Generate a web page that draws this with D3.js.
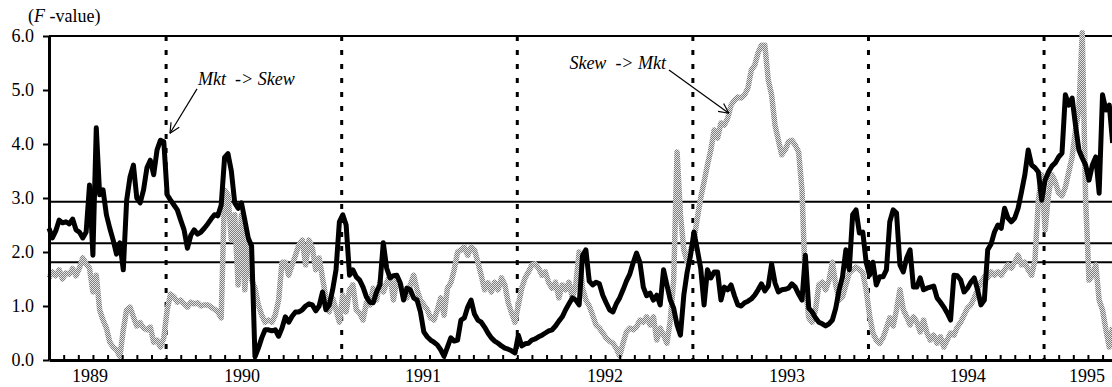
<!DOCTYPE html>
<html>
<head>
<meta charset="utf-8">
<script src="https://cdn.jsdelivr.net/npm/d3@7"></script>
<style>
  body { margin: 0; background: #fff; }
  svg { display: block; font-family: "Liberation Serif", "Times New Roman", serif; }
</style>
</head>
<body>
<div id="chart"></div>
<script>
// F-values of the rolling causality tests, weekly observations

// first weekly observation (decimal year) and the right end of the axis
var startYear = 1988.833;
var endYear = 1994.887;

// Mkt -> Skew (black), one value per week
var mktToSkew = [
  2.44, 2.26, 2.39, 2.59, 2.54, 2.56, 2.52, 2.61, 2.41, 2.37, 2.26, 2.37, 3.24, 1.94, 4.30, 3.06,
  3.15, 2.69, 2.44, 2.22, 1.96, 2.17, 1.67, 2.96, 3.39, 3.61, 3.00, 2.91, 3.15, 3.56, 3.70, 3.43,
  3.89, 4.07, 4.04, 3.06, 2.96, 2.87, 2.78, 2.59, 2.41, 2.07, 2.31, 2.41, 2.33, 2.37, 2.44, 2.52,
  2.61, 2.69, 2.67, 2.87, 3.75, 3.82, 3.50, 2.91, 2.81, 2.91, 2.59, 2.26, 2.11, 0.06, 0.22, 0.41,
  0.56, 0.56, 0.54, 0.56, 0.44, 0.59, 0.80, 0.70, 0.81, 0.89, 0.89, 0.93, 1.00, 1.04, 1.02, 0.91,
  1.00, 1.26, 0.93, 1.02, 1.30, 1.67, 2.56, 2.69, 2.50, 1.57, 1.67, 1.54, 1.48, 1.35, 1.17, 1.07,
  1.06, 1.26, 1.39, 2.17, 1.70, 1.52, 1.56, 1.57, 1.43, 1.11, 1.33, 1.30, 1.15, 1.11, 0.89, 0.52,
  0.43, 0.37, 0.33, 0.28, 0.19, 0.07, 0.24, 0.41, 0.35, 0.37, 0.74, 0.78, 0.98, 1.11, 0.85, 0.74,
  0.70, 0.61, 0.50, 0.41, 0.35, 0.31, 0.26, 0.22, 0.20, 0.17, 0.13, 0.46, 0.26, 0.30, 0.31, 0.37,
  0.39, 0.43, 0.46, 0.50, 0.54, 0.56, 0.63, 0.72, 0.80, 0.93, 1.04, 1.15, 1.11, 1.02, 1.93, 2.04,
  1.46, 1.39, 1.44, 1.41, 1.20, 1.06, 0.93, 0.89, 1.04, 1.15, 1.30, 1.46, 1.59, 1.80, 1.98, 1.81,
  1.35, 1.19, 1.24, 1.11, 1.20, 1.02, 1.67, 1.39, 1.11, 0.96, 0.65, 0.46, 1.20, 1.63, 1.94, 2.37,
  2.04, 1.70, 1.02, 1.67, 1.52, 1.63, 1.63, 1.11, 1.35, 1.30, 1.39, 1.19, 1.02, 1.00, 1.06, 1.09,
  1.13, 1.20, 1.30, 1.41, 1.28, 1.37, 1.78, 1.43, 1.26, 1.30, 1.31, 1.33, 1.41, 1.35, 1.22, 1.11,
  1.94, 0.96, 0.89, 0.78, 0.70, 0.67, 0.63, 0.67, 0.74, 0.96, 1.30, 1.54, 2.04, 1.67, 2.69, 2.78,
  2.35, 2.37, 1.81, 1.57, 1.81, 1.39, 1.54, 1.54, 1.67, 2.56, 2.78, 2.72, 1.76, 1.63, 1.89, 2.04,
  1.35, 1.35, 1.52, 1.30, 1.33, 1.35, 1.37, 1.15, 1.07, 0.98, 0.87, 0.74, 1.57, 1.56, 1.48, 1.26,
  1.33, 1.44, 1.52, 1.30, 1.02, 1.11, 2.04, 2.15, 2.37, 2.50, 2.44, 2.81, 2.63, 2.56, 2.63, 2.81,
  3.11, 3.43, 3.89, 3.61, 3.56, 3.48, 2.96, 3.33, 3.48, 3.59, 3.65, 3.76, 3.83, 4.91, 4.72, 4.85,
  4.35, 3.89, 3.74, 3.61, 3.33, 3.61, 3.76, 3.09, 4.91, 4.63, 4.72, 4.02
];

// Skew -> Mkt (grey), one value per week
var skewToMkt = [
  1.52, 1.63, 1.56, 1.67, 1.50, 1.61, 1.59, 1.69, 1.56, 1.70, 1.89, 1.78, 1.70, 1.26, 1.57, 0.93,
  0.74, 0.59, 0.33, 0.24, 0.19, 0.06, 0.56, 0.93, 0.98, 0.80, 0.63, 0.69, 0.59, 0.56, 0.61, 0.33,
  0.37, 0.24, 0.41, 0.93, 1.22, 1.17, 1.07, 1.11, 1.04, 0.98, 1.07, 1.04, 1.06, 1.00, 1.02, 1.02,
  0.98, 0.94, 0.89, 0.78, 3.15, 3.06, 2.22, 2.69, 1.39, 2.69, 1.30, 2.22, 1.48, 1.33, 1.02, 0.83,
  0.70, 0.74, 0.70, 0.83, 1.11, 1.81, 1.81, 1.57, 1.76, 1.94, 2.13, 2.22, 1.76, 2.22, 2.07, 1.67,
  1.89, 1.52, 1.15, 0.89, 1.15, 0.93, 0.70, 1.20, 0.89, 1.30, 1.39, 0.93, 0.87, 0.74, 1.06, 1.02,
  1.33, 1.11, 1.44, 1.26, 1.43, 1.57, 1.11, 1.48, 1.41, 1.26, 1.15, 1.39, 1.57, 1.30, 1.11, 1.02,
  0.93, 0.78, 0.74, 0.93, 1.15, 0.83, 1.33, 1.43, 1.67, 2.00, 2.04, 2.09, 1.94, 2.09, 2.04, 1.81,
  1.57, 1.30, 1.43, 1.26, 1.44, 1.30, 1.52, 1.39, 1.06, 0.87, 0.70, 1.02, 1.33, 1.52, 1.63, 1.76,
  1.78, 1.70, 1.57, 1.63, 1.43, 1.33, 1.44, 1.15, 1.39, 1.30, 1.44, 1.15, 1.39, 2.00, 1.33, 1.11,
  1.00, 0.83, 0.65, 0.59, 0.50, 0.41, 0.35, 0.31, 0.22, 0.07, 0.31, 0.52, 0.59, 0.56, 0.61, 0.74,
  0.70, 0.80, 0.65, 0.80, 0.37, 0.59, 0.46, 0.31, 0.74, 1.48, 3.85, 2.69, 2.04, 1.81, 2.04, 2.22,
  2.63, 3.00, 3.30, 3.61, 3.89, 4.26, 4.11, 4.39, 4.35, 4.48, 4.72, 4.81, 4.87, 4.85, 4.91, 5.04,
  5.37, 5.46, 5.69, 5.83, 5.83, 5.19, 4.91, 4.35, 4.07, 3.80, 3.89, 4.04, 4.07, 3.98, 3.85, 3.15,
  1.39, 0.78, 0.70, 0.93, 1.39, 1.44, 1.30, 1.48, 1.81, 1.39, 1.11, 1.17, 1.39, 1.61, 1.67, 1.72,
  1.67, 1.61, 1.30, 0.83, 0.50, 0.37, 0.31, 0.41, 0.59, 0.78, 0.63, 0.93, 1.30, 0.93, 0.80, 0.65,
  0.80, 0.70, 0.52, 0.74, 0.50, 0.37, 0.46, 0.31, 0.43, 0.24, 0.37, 0.50, 0.46, 0.61, 0.70, 0.83,
  0.96, 1.02, 1.15, 1.30, 1.44, 1.54, 1.52, 1.63, 1.57, 1.63, 1.57, 1.67, 1.76, 1.70, 1.81, 1.94,
  1.76, 1.81, 1.67, 1.57, 1.85, 2.96, 3.43, 2.41, 3.06, 3.43, 3.30, 3.09, 3.04, 3.20, 3.48, 3.76,
  4.26, 4.63, 6.06, 2.96, 1.48, 1.57, 1.76, 1.11, 0.93, 0.56, 0.24, 0.61
];

var yTicks = [0, 1, 2, 3, 4, 5, 6];
var yearLabels = ["1989", "1990", "1991", "1992", "1993", "1994", "1995"];
var yearLabelAt = [1989.067, 1989.932, 1990.963, 1991.999, 1993.036, 1994.066, 1994.744];
var criticalF = [2.93, 2.16, 1.81];
var breakYears = [1989.5, 1990.5, 1991.5, 1992.5, 1993.5, 1994.5];

var svgWidth = 1112;
var svgHeight = 387;

var margin = {
  top: 36,
  right: 0,
  bottom: 27,
  left: 49
};

var width = svgWidth - margin.left - margin.right;
var height = svgHeight - margin.top - margin.bottom;

var svg = d3.select("#chart")
  .append("svg")
  .attr("width", svgWidth)
  .attr("height", svgHeight);

// stippled grey used for the Skew -> Mkt line
var pat = svg.append("defs").append("pattern")
  .attr("id", "stipple")
  .attr("patternUnits", "userSpaceOnUse")
  .attr("width", 2)
  .attr("height", 2);
pat.append("rect").attr("width", 2).attr("height", 2).attr("fill", "#e4e4e4");
pat.append("rect").attr("width", 1).attr("height", 1).attr("fill", "#7e7e7e");
pat.append("rect").attr("x", 1).attr("y", 1).attr("width", 1).attr("height", 1).attr("fill", "#7e7e7e");

var chartGroup = svg.append("g")
  .attr("transform", `translate(${margin.left}, ${margin.top})`);

var xScale = d3.scaleLinear()
  .domain([startYear, endYear])
  .range([0, width]);

var yScale = d3.scaleLinear()
  .domain([0, 6])
  .range([height, 0]);

var weekYear = function(i) { return startYear + i / 52; };

// monthly ticks on the time axis
var monthTicks = d3.range(11, 84).map(function(m) { return 1988 + m / 12; })
  .filter(function(t) { return t > startYear + 0.01 && t < endYear; });

// reference lines: top frame + critical values
chartGroup.append("line")
  .attr("x1", 0).attr("x2", width)
  .attr("y1", yScale(6)).attr("y2", yScale(6))
  .attr("stroke", "#000").attr("stroke-width", 2);

chartGroup.append("g")
  .selectAll("line")
  .data(criticalF)
  .enter()
  .append("line")
  .attr("x1", 0).attr("x2", width)
  .attr("y1", function(d) { return yScale(d); })
  .attr("y2", function(d) { return yScale(d); })
  .attr("stroke", "#000")
  .attr("stroke-width", 2);

// sub-period breaks
chartGroup.append("g")
  .selectAll("line")
  .data(breakYears)
  .enter()
  .append("line")
  .attr("x1", function(d) { return xScale(d); })
  .attr("x2", function(d) { return xScale(d); })
  .attr("y1", yScale(6)).attr("y2", yScale(0))
  .attr("stroke", "#000")
  .attr("stroke-width", 3)
  .attr("stroke-dasharray", "5,9");

var line = d3.line()
  .x(function(d, i) { return xScale(weekYear(i)); })
  .y(function(d) { return yScale(d); });

chartGroup.append("path")
  .datum(skewToMkt)
  .attr("d", line)
  .attr("fill", "none")
  .attr("stroke", "url(#stipple)")
  .attr("stroke-width", 5.5)
  .attr("stroke-linejoin", "round");

chartGroup.append("path")
  .datum(mktToSkew)
  .attr("d", line)
  .attr("fill", "none")
  .attr("stroke", "#000")
  .attr("stroke-width", 5)
  .attr("stroke-linejoin", "round");

// axes
var xAxis = chartGroup.append("g")
  .attr("transform", `translate(0, ${height})`)
  .call(d3.axisBottom(xScale).tickValues(monthTicks).tickSize(-5).tickSizeOuter(0).tickFormat(""));
xAxis.select(".domain").attr("stroke-width", 3);
xAxis.selectAll(".tick line").attr("stroke-width", 2);

chartGroup.append("g")
  .selectAll("text")
  .data(yearLabels)
  .enter()
  .append("text")
  .attr("x", function(d, i) { return xScale(yearLabelAt[i]); })
  .attr("y", height + 22)
  .attr("text-anchor", "middle")
  .attr("font-size", "18px")
  .text(function(d) { return d; });

var yAxis = chartGroup.append("g")
  .call(d3.axisLeft(yScale).tickValues(yTicks).tickSize(6).tickSizeOuter(0).tickPadding(9)
    .tickFormat(d3.format(".1f")))
  .attr("font-family", null)
  .attr("font-size", "18px");
yAxis.select(".domain").attr("stroke-width", 3);
yAxis.selectAll(".tick line").attr("stroke-width", 2);
yAxis.selectAll(".tick text").attr("fill", "#000");

// unit label
var unit = svg.append("text")
  .attr("x", 28)
  .attr("y", 22)
  .attr("font-size", "18px");
unit.append("tspan").text("(");
unit.append("tspan").attr("font-style", "italic").text("F");
unit.append("tspan").text(" -value)");

// annotations (data coordinates)
var notes = [
  {text: "Mkt  -> Skew", tx: 1989.682, ty: 5.09, anchor: "start", from: [1989.676, 5.02], to: [1989.522, 4.20]},
  {text: "Skew  -> Mkt", tx: 1992.347, ty: 5.39, anchor: "end", from: [1992.364, 5.37], to: [1992.705, 4.57]}
];

notes.forEach(function(n) {
  chartGroup.append("text")
    .attr("x", xScale(n.tx))
    .attr("y", yScale(n.ty))
    .attr("text-anchor", n.anchor)
    .attr("font-size", "18px")
    .attr("font-style", "italic")
    .style("white-space", "pre")
    .text(n.text);

  var x1 = xScale(n.from[0]), y1 = yScale(n.from[1]);
  var x2 = xScale(n.to[0]), y2 = yScale(n.to[1]);
  chartGroup.append("line")
    .attr("x1", x1).attr("y1", y1).attr("x2", x2).attr("y2", y2)
    .attr("stroke", "#000").attr("stroke-width", 1.2);

  var ang = Math.atan2(y2 - y1, x2 - x1);
  [-0.45, 0.45].forEach(function(a) {
    chartGroup.append("line")
      .attr("x1", x2).attr("y1", y2)
      .attr("x2", x2 - 11 * Math.cos(ang + a))
      .attr("y2", y2 - 11 * Math.sin(ang + a))
      .attr("stroke", "#000").attr("stroke-width", 1.2);
  });
});
</script>
</body>
</html>
